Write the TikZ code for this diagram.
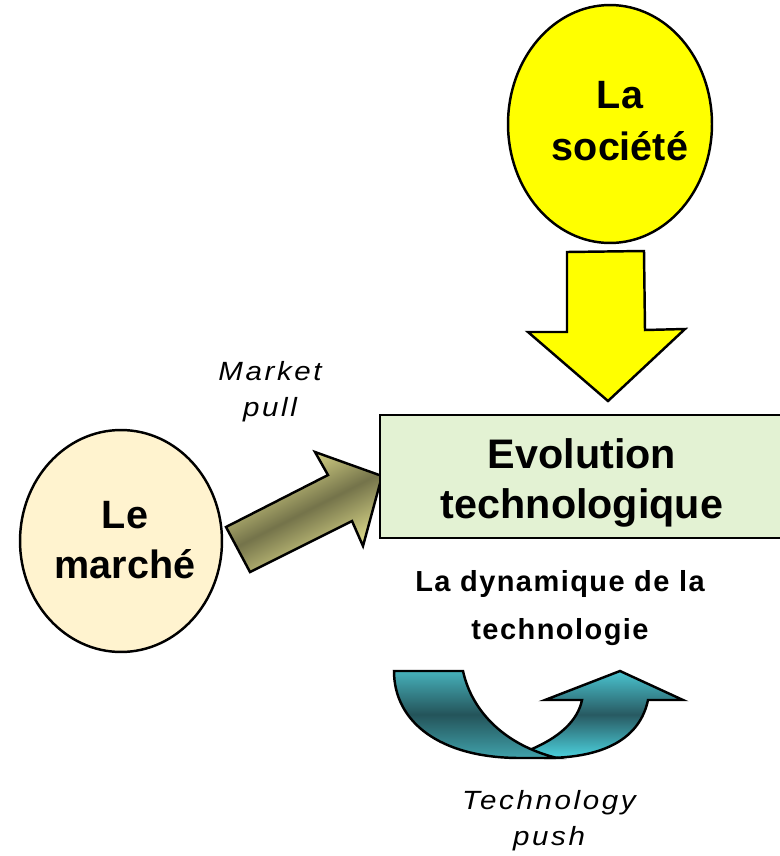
\documentclass[tikz,border=0pt]{standalone}
\usepackage{fontspec}
\setmainfont{Liberation Sans}
\newfontfamily\espace[LetterSpace=10, FakeStretch=1.12]{Liberation Sans}
\newfontfamily\leger[LetterSpace=5]{Liberation Sans}
\usetikzlibrary{shapes.geometric}
\definecolor{jaune}{HTML}{FFFF00}
\definecolor{creme}{HTML}{FFF3CF}
\definecolor{vertpale}{HTML}{E3F2D3}
\definecolor{olivec}{HTML}{F6F39A}
\definecolor{olivef}{HTML}{74734A}
\definecolor{tealc}{HTML}{46B0BA}
\definecolor{tealf}{HTML}{24545A}
\definecolor{cyanh}{HTML}{4AC4D0}
\definecolor{cyanc}{HTML}{4CD2DE}
\definecolor{cyanf}{HTML}{285A62}
\tikzset{
  bulle/.style={ellipse, draw=black, line width=1.4pt, inner sep=0pt},
  gras/.style={font=\bfseries\fontsize{22.5}{28}\selectfont, align=center},
  etiquette/.style={font=\espace\itshape\fontsize{15}{20.5}\selectfont, align=center},
  bloc/.style={draw=black, line width=1.4pt, line join=miter}
}
\begin{document}
\begin{tikzpicture}[x=0.02cm, y=-0.02cm]
    \useasboundingbox (0,0) rectangle (779,856);

    % les deux bulles
    \node[bulle, fill=jaune, minimum width=4.08cm, minimum height=4.76cm] (societe) at (610,124) {};
    \node[gras, font=\bfseries\fontsize{22.5}{29.5}\selectfont] (societetxt) at (620,121) {La\\société};
    \node[bulle, fill=creme, minimum width=4.04cm, minimum height=4.44cm] (marche) at (121,541) {};
    \node[gras] (marchetxt) at (125,540) {Le\\marché};

    % fleche de la societe vers le bas
    \draw[bloc, fill=jaune] (567,252) -- (644,251) -- (645,330) -- (685,329)
        -- (608,401) -- (528,332) -- (567,332) -- cycle;

    % fleche market pull
    \draw[bloc, top color=olivec, bottom color=olivec, middle color=olivef, shading angle=27]
        (250,572) -- (226,527) -- (328,475) -- (315,452) -- (382,476)
        -- (363,546) -- (352,521) -- cycle;

    % le cadre central
    \node[draw=black, line width=1.4pt, fill=vertpale, minimum width=8.04cm, minimum height=2.46cm]
          (evolution) at (581,476.5) {};
    \node[gras, font=\bfseries\fontsize{23.5}{28.5}\selectfont] (evolutiontxt) at (582,483)
          {Evolution\\technologique};

    \node[font=\leger\bfseries\fontsize{16.5}{27.5}\selectfont, align=center] (dynamique) at (560,608)
          {La dynamique de la\\technologie};

    % fleche en U (technology push)
    \draw[bloc, top color=cyanh, bottom color=cyanc, middle color=cyanf]
        (527,751) .. controls (560,738) and (578,720) .. (582,700) -- (545,700) -- (620,671)
        -- (683,700) -- (648,700) .. controls (640,738) and (605,758) .. (545,758) -- cycle;
    \draw[bloc, top color=tealc, bottom color=tealc!92!black, middle color=tealf]
        (394,671) -- (463,671) .. controls (472,712) and (505,745) .. (557,758)
        -- (520,758) .. controls (440,758) and (394,722) .. (394,671) -- cycle;

    % textes en italique
    \node[etiquette] (market) at (270,392) {Market\\pull};
    \node[etiquette] (push) at (549,821) {Technology\\push};
\end{tikzpicture}
\end{document}
